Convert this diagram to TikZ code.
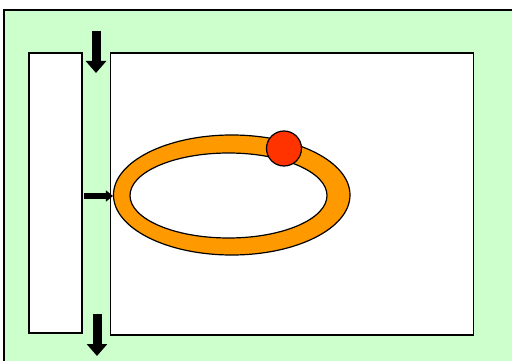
\documentclass[tikz,border=0pt]{standalone}
\usetikzlibrary{arrows.meta,shapes.geometric}
\definecolor{bggreen}{HTML}{CCFFCC}
\definecolor{ringorange}{HTML}{FF9900}
\definecolor{dotred}{HTML}{FF3300}
\tikzset{
  panel/.style={draw=black, line width=1.2pt},
  fatarrow/.style={line width=9pt, -{Triangle[length=12pt,width=20pt]}},
  thinarrow/.style={line width=6pt, -{Triangle[length=7pt,width=11pt]}},
}
\begin{document}
\begin{tikzpicture}[x=1pt,y=-1pt]
\useasboundingbox (0,0) rectangle (512,361);
\fill[bggreen] (4,10) rectangle (520,370);
\draw[panel] (4,370) -- (4,10) -- (520,10);
\draw[panel, fill=white] (29,53) rectangle (82,333) coordinate (lbr);
\node[panel, fill=white, inner sep=0pt, minimum width=363pt, minimum height=282pt] (right) at (292,194) {};
\node[draw=black, line width=1.2pt, fill=ringorange, ellipse, inner sep=0pt, minimum width=236.5pt, minimum height=120pt] (outer) at (231.75,195) {};
\node[draw=black, line width=1.2pt, fill=white, ellipse, inner sep=0pt, minimum width=197pt, minimum height=85pt] (inner) at (228.5,195.5) {};
\node[draw=black, line width=1.2pt, fill=dotred, circle, inner sep=0pt, minimum size=35pt] (dot) at (284,148.5) {};
\coordinate (t1) at (96,31);
\coordinate (t2) at (96,73);
\coordinate (b1) at (97,314);
\coordinate (b2) at (97,356);
\coordinate (h1) at (84,196);
\draw[fatarrow] (t1) -- (t2);
\draw[fatarrow] (b1) -- (b2);
\draw[thinarrow] (h1) -- (h1 -| outer.west);
\end{tikzpicture}
\end{document}
